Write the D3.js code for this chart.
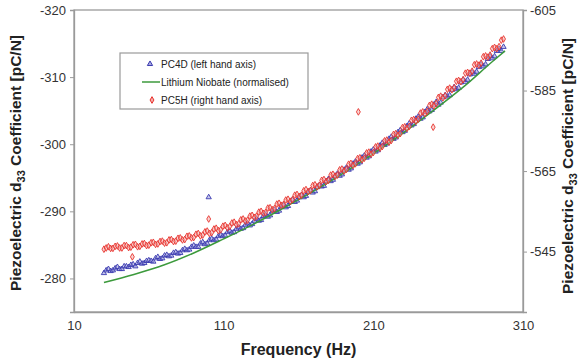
<!DOCTYPE html>
<html>
<head>
<meta charset="utf-8">
<script src="https://cdn.jsdelivr.net/npm/d3@7"></script>
<style>
  body { margin: 0; background: #fff; }
  svg text { font-family: "Liberation Sans", Arial, sans-serif; }
</style>
</head>
<body>
<div id="container"></div>
<script>
/* DATA */
// frequencies shared by the two measured series (Hz), 30 .. 297 every 1.5
const freqs = d3.range(30, 297.1, 1.5);

// PC4D, left hand axis (pC/N)
const pc4dVals = [
  -280.8, -281.2, -281.4, -281.1, -281.2, -281.5, -281.7, -281.4, -281.4, -281.8,
  -281.8, -281.7, -282.0, -282.1, -281.8, -282.3, -282.5, -282.2, -282.3, -282.6,
  -282.7, -282.6, -282.5, -283.0, -283.2, -282.9, -283.0, -283.4, -283.5, -283.3,
  -283.4, -283.8, -283.9, -283.7, -283.8, -284.2, -284.4, -284.2, -284.3, -284.7,
  -284.9, -284.7, -284.7, -285.2, -285.4, -285.1, -285.2, -285.7, -285.9, -285.7,
  -285.8, -286.3, -286.5, -286.3, -286.4, -286.9, -287.1, -286.8, -286.9, -287.4,
  -287.6, -287.4, -287.5, -288.0, -288.2, -287.9, -288.1, -288.6, -288.9, -288.6,
  -288.7, -289.3, -289.5, -289.2, -289.4, -290.0, -290.2, -289.9, -290.1, -290.7,
  -290.9, -290.6, -290.8, -291.4, -291.7, -291.4, -291.6, -292.1, -292.4, -292.1,
  -292.3, -292.9, -293.1, -292.8, -293.0, -293.6, -293.9, -293.7, -293.8, -294.5,
  -294.8, -294.5, -294.7, -295.3, -295.6, -295.3, -295.5, -296.2, -296.5, -296.2,
  -296.4, -297.1, -297.4, -297.1, -297.3, -298.0, -298.3, -298.0, -298.2, -298.9,
  -299.2, -298.9, -299.1, -299.8, -300.2, -299.9, -300.1, -300.8, -301.1, -300.8,
  -301.0, -301.8, -302.1, -301.8, -302.0, -302.7, -303.1, -302.8, -303.0, -303.8,
  -304.1, -303.8, -304.0, -304.8, -305.2, -304.9, -305.1, -305.9, -306.3, -305.9,
  -306.2, -307.0, -307.3, -307.1, -307.3, -308.1, -308.5, -308.2, -308.4, -309.2,
  -309.6, -309.3, -309.6, -310.4, -310.7, -310.5, -310.8, -311.5, -311.9, -311.6,
  -311.9, -312.7, -313.1, -312.8, -313.1, -313.9, -314.2, -313.9, -314.5
];
const pc4dOutliers = [[100, -292.1]];

// PC5H, right hand axis (pC/N)
const pc5hVals = [
  -545.6, -545.9, -546.2, -545.8, -545.8, -546.3, -546.4, -545.9, -545.9, -546.5,
  -546.5, -546.0, -546.1, -546.7, -546.8, -546.2, -546.3, -546.9, -547.0, -546.5,
  -546.6, -547.2, -547.3, -546.8, -546.9, -547.5, -547.6, -547.1, -547.2, -547.9,
  -548.0, -547.5, -547.6, -548.3, -548.4, -547.9, -548.0, -548.8, -548.9, -548.4,
  -548.5, -549.3, -549.5, -548.9, -549.1, -549.9, -550.1, -549.5, -549.7, -550.6,
  -550.8, -550.2, -550.4, -551.3, -551.5, -550.9, -551.2, -552.1, -552.3, -551.7,
  -551.9, -552.9, -553.1, -552.6, -552.8, -553.8, -554.0, -553.5, -553.8, -554.8,
  -555.0, -554.5, -554.7, -555.8, -555.9, -555.4, -555.7, -556.8, -557.0, -556.5,
  -556.7, -557.8, -558.0, -557.5, -557.9, -559.0, -559.2, -558.7, -559.0, -560.1,
  -560.4, -559.9, -560.2, -561.4, -561.6, -561.1, -561.5, -562.7, -562.9, -562.4,
  -562.7, -564.0, -564.2, -563.7, -564.0, -565.3, -565.5, -565.0, -565.4, -566.7,
  -566.9, -566.4, -566.8, -568.1, -568.3, -567.8, -568.2, -569.5, -569.7, -569.2,
  -569.6, -571.0, -571.2, -570.7, -571.1, -572.5, -572.7, -572.2, -572.6, -574.1,
  -574.3, -573.9, -574.3, -575.8, -576.0, -575.6, -576.1, -577.6, -577.8, -577.4,
  -577.9, -579.4, -579.7, -579.3, -579.8, -581.3, -581.6, -581.2, -581.8, -583.3,
  -583.6, -583.2, -583.7, -585.3, -585.6, -585.2, -585.7, -587.3, -587.5, -587.2,
  -587.7, -589.3, -589.5, -589.3, -589.8, -591.4, -591.6, -591.3, -591.8, -593.4,
  -593.6, -593.3, -593.8, -595.4, -595.7, -595.4, -595.9, -597.5, -597.8
];
const pc5hOutliers = [[49, -543.7], [100, -553.1], [200, -579.7], [250, -575.9]];

// Lithium Niobate (normalised), left hand axis
const lnFreqs = [30, 50, 70, 90, 110, 130, 150, 170, 190, 210, 230, 250, 270, 290, 298];
const lnVals = [-279.4, -280.6, -282.0, -283.8, -285.9, -288.1, -290.5, -293.0,
  -295.7, -298.6, -301.7, -305.0, -308.5, -312.4, -313.9];

// tick labels
const xTicks = [10, 110, 210, 310];
const leftTicks = [-320, -310, -300, -290, -280];
const rightTicks = [-605, -585, -565, -545];

const legendItems = ["PC4D (left hand axis)", "Lithium Niobate (normalised)", "PC5H (right hand axis)"];

/* CONSTANTS */
const W = 580, H = 364;
const margin = { top: 10, right: 57, bottom: 52, left: 74 };
const width = W - margin.left - margin.right;
const height = H - margin.top - margin.bottom;

const blue = "#3b3bb0", red = "#e8332e", green = "#3c9a3c";

/* SCALES */
const x = d3.scaleLinear().domain([10, 310]).range([0, width]);
const yL = d3.scaleLinear().domain([-275, -320]).range([height, 0]);
const yR = d3.scaleLinear().domain([-530, -605]).range([height, 0]);

/* SVG */
const svg = d3.select("#container").append("svg")
  .attr("width", W).attr("height", H);
const g = svg.append("g").attr("transform", `translate(${margin.left},${margin.top})`);

// frame
g.append("rect").attr("width", width).attr("height", height)
  .attr("fill", "none").attr("stroke", "#9a9a9a").attr("stroke-width", 1.3);

// axes (plain hyphen minus, like the original)
const fmt = d => String(d);
const xAxis = g.append("g").attr("transform", `translate(0,${height})`)
  .call(d3.axisBottom(x).tickValues(xTicks).tickFormat(fmt).tickSize(0).tickPadding(9));
const lAxis = g.append("g")
  .call(d3.axisLeft(yL).tickValues(leftTicks).tickFormat(fmt).tickSize(4).tickPadding(4));
const rAxis = g.append("g").attr("transform", `translate(${width},0)`)
  .call(d3.axisRight(yR).tickValues(rightTicks).tickFormat(fmt).tickSize(4).tickPadding(3));

[xAxis, lAxis, rAxis].forEach(a => {
  a.select(".domain").attr("stroke", "#9a9a9a").attr("stroke-width", 1.3);
  a.selectAll(".tick line").attr("stroke", "#9a9a9a");
  a.selectAll(".tick text").attr("fill", "#333").style("font-size", "13px");
});

/* MARKS */
const tri = d3.symbol().type(d3.symbolTriangle).size(12);
const dia = d3.symbol().type(d3.symbolDiamond).size(13);

const pc4d = freqs.map((f, i) => [f, pc4dVals[i]]).concat(pc4dOutliers);
const pc5h = freqs.map((f, i) => [f, pc5hVals[i]]).concat(pc5hOutliers);

g.append("g").selectAll("path")
  .data(pc4d).join("path")
  .attr("d", tri)
  .attr("transform", d => `translate(${x(d[0])},${yL(d[1])})`)
  .attr("fill", "#8f8fd8").attr("fill-opacity", 0.5)
  .attr("stroke", blue).attr("stroke-width", 0.9);

g.append("path")
  .datum(lnFreqs.map((f, i) => [f, lnVals[i]]))
  .attr("fill", "none").attr("stroke", green).attr("stroke-width", 1.5)
  .attr("d", d3.line().x(d => x(d[0])).y(d => yL(d[1])).curve(d3.curveMonotoneX));

g.append("g").selectAll("path")
  .data(pc5h).join("path")
  .attr("d", dia)
  .attr("transform", d => `translate(${x(d[0])},${yR(d[1])})`)
  .attr("fill", "#f4a8a6").attr("fill-opacity", 0.5)
  .attr("stroke", red).attr("stroke-width", 0.9);

/* LEGEND */
const lg = svg.append("g").attr("transform", "translate(120,53)");
lg.append("rect").attr("width", 188).attr("height", 56)
  .attr("fill", "#fff").attr("stroke", "#9a9a9a").attr("stroke-width", 1.2);
legendItems.forEach((t, i) => {
  const yy = 11 + i * 18;
  if (i === 0) {
    lg.append("path").attr("d", tri).attr("transform", `translate(30,${yy})`)
      .attr("fill", "#a9a9e0").attr("stroke", blue);
  } else if (i === 1) {
    lg.append("line").attr("x1", 22).attr("x2", 40).attr("y1", yy).attr("y2", yy)
      .attr("stroke", green).attr("stroke-width", 1.5);
  } else {
    lg.append("path").attr("d", dia).attr("transform", `translate(32,${yy})`)
      .attr("fill", "#f4a8a6").attr("stroke", red);
  }
  lg.append("text").attr("x", 41).attr("y", yy).attr("dy", "0.35em")
    .style("font-size", "10px").attr("fill", "#222").text(t);
});

/* AXIS TITLES */
svg.append("text")
  .attr("x", margin.left + width / 2).attr("y", 355)
  .attr("text-anchor", "middle")
  .style("font-size", "16px").style("font-weight", "bold").attr("fill", "#222")
  .text("Frequency (Hz)");

function yTitle(cx, cy) {
  const t = svg.append("text")
    .attr("transform", `translate(${cx},${cy}) rotate(-90)`)
    .attr("text-anchor", "middle")
    .style("font-size", "15.5px").style("font-weight", "bold").attr("fill", "#222");
  t.append("tspan").text("Piezoelectric d");
  t.append("tspan").attr("dy", 4).style("font-size", "11px").text("33");
  t.append("tspan").attr("dy", -4).text(" Coefficient [pC/N]");
}
yTitle(21, 163);
yTitle(573, 166);
</script>
</body>
</html>
